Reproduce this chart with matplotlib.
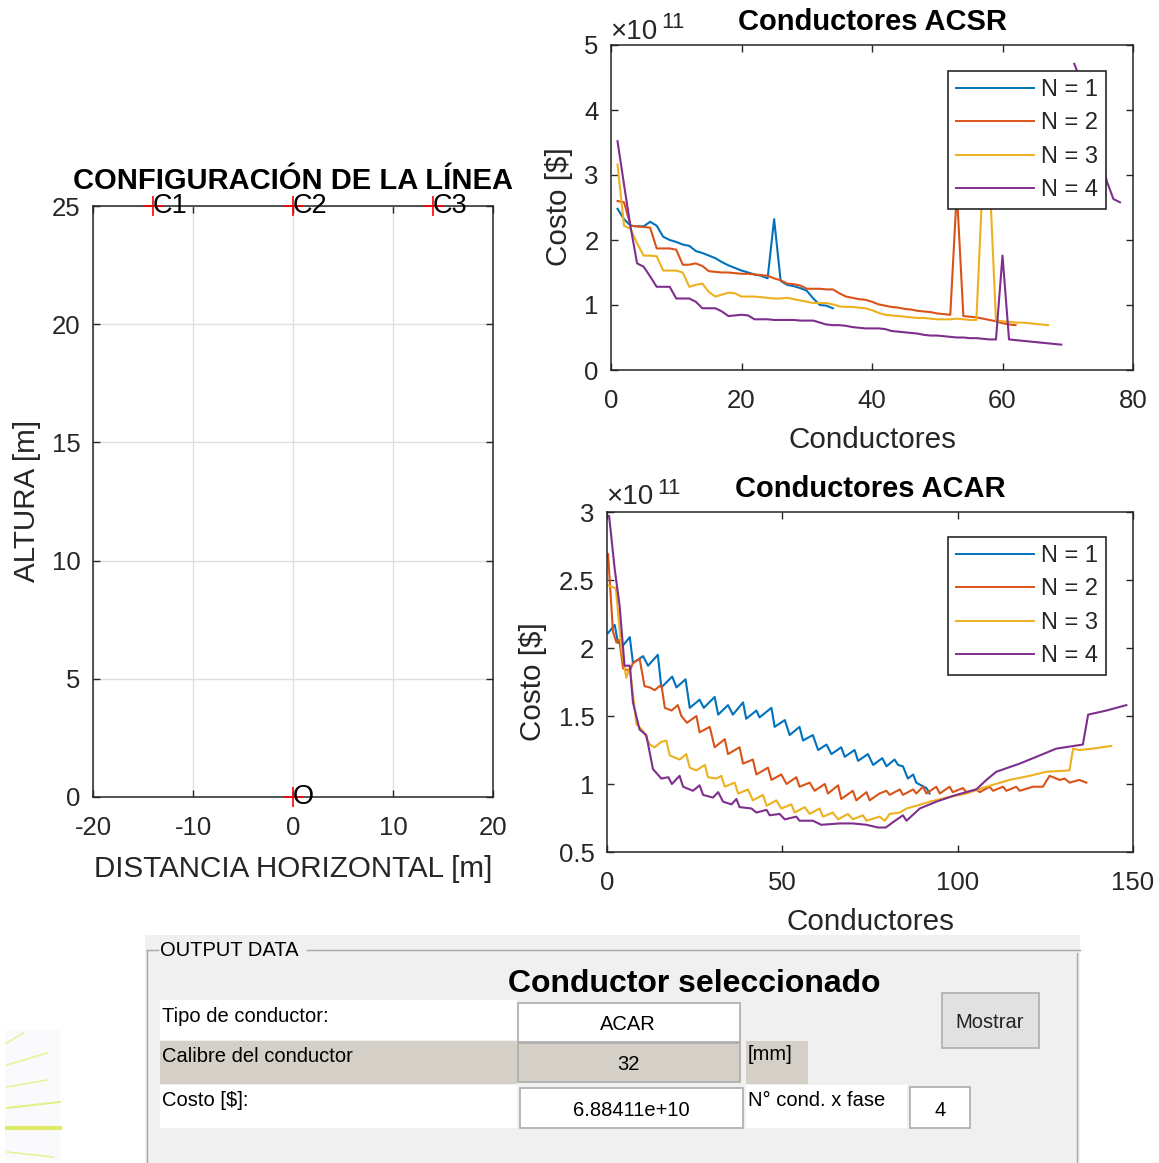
import numpy as np
import matplotlib
matplotlib.use('Agg')
import matplotlib.pyplot as plt
from matplotlib.patches import Rectangle
from matplotlib.lines import Line2D
from matplotlib.ticker import FuncFormatter

plt.rcParams['font.family'] = ['Liberation Sans', 'DejaVu Sans']
plt.rcParams['axes.unicode_minus'] = False

# ---------------- data ----------------
# Line configuration (left plot)
cond_labels = ['C1', 'C2', 'C3', 'O']
cond_x = [-14, 0, 14, 0]
cond_y = [25, 25, 25, 0]

series_labels = ['N = 1', 'N = 2', 'N = 3', 'N = 4']

# ACSR costs (x 1e11 $), one value per conductor index
acsr_n1 = [2.48, 2.32, 2.22, 2.21, 2.21, 2.28, 2.22, 2.05, 2.00, 1.97,
           1.93, 1.91, 1.83, 1.80, 1.76, 1.72, 1.66, 1.61, 1.57, 1.53,
           1.50, 1.47, 1.45, 1.41, 2.32, 1.37, 1.31, 1.29, 1.26, 1.22,
           1.10, 1.00, 0.99, 0.95]
acsr_n2 = [2.60, 2.58, 2.22, 2.21, 2.20, 2.19, 1.87, 1.87, 1.87, 1.85,
           1.62, 1.62, 1.64, 1.60, 1.52, 1.51, 1.50, 1.50, 1.49, 1.48,
           1.48, 1.47, 1.46, 1.45, 1.41, 1.38, 1.33, 1.32, 1.30, 1.25,
           1.25, 1.25, 1.24, 1.24, 1.18, 1.13, 1.11, 1.09, 1.08, 1.05,
           1.01, 0.99, 0.97, 0.96, 0.94, 0.93, 0.91, 0.90, 0.89, 0.87,
           0.86, 0.85, 2.75, 0.83, 0.82, 0.81, 0.79, 0.77, 0.75, 0.72,
           0.70, 0.69]
acsr_n3 = [3.16, 2.22, 2.17, 1.95, 1.76, 1.76, 1.75, 1.53, 1.53, 1.53,
           1.50, 1.28, 1.31, 1.33, 1.20, 1.13, 1.16, 1.19, 1.18, 1.13,
           1.13, 1.13, 1.12, 1.11, 1.10, 1.10, 1.11, 1.09, 1.07, 1.05,
           1.03, 1.03, 1.03, 1.01, 0.98, 0.97, 0.97, 0.96, 0.95, 0.92,
           0.88, 0.85, 0.84, 0.83, 0.82, 0.81, 0.80, 0.80, 0.79, 0.78,
           0.78, 0.78, 0.79, 0.78, 0.77, 0.77, 3.00, 3.00, 0.76, 0.75,
           0.74, 0.73, 0.73, 0.72, 0.71, 0.70, 0.69]
acsr_n4 = [3.52, 2.85, 2.20, 1.64, 1.59, 1.44, 1.28, 1.28, 1.28, 1.10,
           1.10, 1.10, 1.05, 0.95, 0.95, 0.95, 0.90, 0.83, 0.84, 0.85,
           0.84, 0.78, 0.78, 0.78, 0.77, 0.77, 0.77, 0.77, 0.76, 0.76,
           0.76, 0.73, 0.70, 0.69, 0.69, 0.68, 0.66, 0.65, 0.64, 0.64,
           0.64, 0.63, 0.60, 0.59, 0.58, 0.57, 0.56, 0.54, 0.53, 0.53,
           0.52, 0.51, 0.50, 0.50, 0.49, 0.49, 0.48, 0.47, 0.47, 1.76,
           0.47, 0.46, 0.45, 0.44, 0.43, 0.42, 0.41, 0.40, 0.39, np.nan,
           4.71, 4.45, 4.10, 3.70, 3.30, 2.90, 2.63, 2.58]

# ACAR costs (x 1e11 $), polyline vertices
acar_n1_x = [0.3, 2.2, 3.1, 4.6, 6.5, 7.4, 10.3, 11.7, 14.5, 15.5, 18.6, 19.8,
             22.4, 23.6, 26.4, 27.6, 30.7, 31.7, 34.5, 35.9, 38.8, 39.7, 42.6,
             43.5, 46.9, 47.8, 50.7, 52.1, 54.9, 55.9, 58.7, 60.2, 62.6, 64.0,
             66.8, 67.8, 70.6, 71.6, 74.4, 75.9, 78.5, 79.7, 82.0, 83.0, 84.4,
             85.8, 87.3, 88.2, 89.6, 91.1, 92.0]
acar_n1_y = [2.11, 2.17, 2.04, 2.02, 2.08, 1.89, 1.94, 1.87, 1.95, 1.71, 1.79, 1.71,
             1.77, 1.56, 1.62, 1.56, 1.64, 1.51, 1.58, 1.51, 1.60, 1.48, 1.54,
             1.49, 1.56, 1.42, 1.47, 1.36, 1.42, 1.32, 1.36, 1.25, 1.29, 1.22,
             1.27, 1.20, 1.25, 1.17, 1.22, 1.14, 1.19, 1.13, 1.18, 1.14, 1.13,
             1.04, 1.07, 1.01, 0.99, 0.97, 0.93]
acar_n2_x = [0.3, 1.7, 2.7, 3.5, 4.6, 6.5, 7.4, 9.3, 10.7, 12.2, 13.6, 15.5, 16.5,
             18.4, 20.2, 21.2, 22.8, 25.5, 26.4, 29.3, 30.7, 33.6, 34.5, 37.8,
             38.8, 41.6, 42.6, 45.9, 46.9, 49.7, 51.2, 54.0, 54.9, 57.8, 59.2,
             62.1, 63.0, 65.9, 66.8, 70.1, 71.1, 74.0, 74.9, 77.7, 79.7, 80.6,
             83.5, 84.4, 87.3, 88.2, 90.1, 91.1, 93.9, 94.9, 97.7, 98.6, 101.5,
             102.5, 105.3, 106.3, 109.1, 110.1, 112.9, 113.9, 116.7, 117.7,
             121.5, 124.3, 126.2, 127.2, 129.1, 130.5, 131.9, 134.7, 136.7]
acar_n2_y = [2.69, 2.12, 2.04, 2.06, 1.85, 1.83, 1.89, 1.92, 1.72, 1.71, 1.69, 1.73, 1.56,
             1.54, 1.58, 1.50, 1.45, 1.50, 1.38, 1.42, 1.27, 1.33, 1.22, 1.27,
             1.15, 1.18, 1.07, 1.12, 1.03, 1.07, 1.00, 1.05, 0.98, 1.01, 0.95,
             1.00, 0.93, 0.99, 0.89, 0.95, 0.88, 0.94, 0.88, 0.93, 0.95, 0.92,
             0.96, 0.92, 0.96, 0.93, 0.98, 0.93, 0.98, 0.93, 0.98, 0.94, 0.97,
             0.94, 0.96, 0.94, 0.98, 0.95, 0.98, 0.95, 0.98, 0.95,
             0.98, 0.98, 1.06, 1.05, 1.03, 1.04, 1.01, 1.03, 1.01]
acar_n3_x = [0.3, 2.5, 4.1, 5.5, 6.5, 8.4, 10.3, 12.2, 13.6, 15.5, 16.9, 17.9, 20.7,
             22.6, 23.6, 25.5, 27.9, 28.8, 31.2, 32.6, 33.6, 36.4, 37.4, 40.2,
             41.6, 44.5, 45.5, 48.3, 49.7, 52.6, 53.5, 56.4, 57.8, 60.6, 61.6,
             64.4, 65.9, 68.7, 70.1, 73.0, 74.0, 77.7, 79.2, 80.6, 83.5, 85.4,
             88.2, 92.0, 96.8, 102.5, 108.2, 114.8, 120.5, 125.3, 131.9, 132.9,
             134.7, 138.6, 143.8]
acar_n3_y = [2.46, 2.44, 2.00, 1.78, 1.86, 1.44, 1.39, 1.29, 1.27, 1.31, 1.32, 1.21, 1.18,
             1.22, 1.12, 1.10, 1.14, 1.05, 1.04, 1.06, 0.98, 1.01, 0.93, 0.96,
             0.88, 0.92, 0.84, 0.88, 0.82, 0.85, 0.79, 0.83, 0.78, 0.82, 0.76,
             0.79, 0.74, 0.78, 0.74, 0.77, 0.73, 0.76, 0.73, 0.78, 0.79, 0.82,
             0.84, 0.87, 0.90, 0.93, 0.98, 1.03, 1.06, 1.09, 1.10, 1.26,
             1.25, 1.26, 1.28]
acar_n4_x = [0.6, 2.2, 3.6, 5.0, 6.5, 7.4, 9.3, 11.2, 13.1, 15.5, 17.5, 18.5, 20.7,
             21.7, 24.5, 26.4, 27.4, 30.2, 31.7, 33.1, 35.5, 36.9, 37.8, 41.2,
             42.6, 45.5, 46.4, 49.2, 50.7, 54.0, 54.9, 58.7, 61.1, 66.4, 70.1,
             74.0, 77.3, 79.5, 81.6, 84.4, 85.4, 89.2, 93.9, 99.6, 105.3, 108.2,
             111.0, 117.7, 123.4, 128.1, 135.7, 137.2, 142.4, 148.1]
acar_n4_y = [2.97, 2.58, 2.31, 1.87, 1.87, 1.60, 1.40, 1.36, 1.11, 1.04, 1.05, 1.00, 1.06,
             0.98, 0.95, 0.99, 0.92, 0.90, 0.94, 0.87, 0.85, 0.89, 0.83, 0.82,
             0.79, 0.81, 0.77, 0.78, 0.74, 0.76, 0.73, 0.73, 0.70, 0.71, 0.71,
             0.70, 0.68, 0.68, 0.72, 0.77, 0.73, 0.82, 0.87, 0.92, 0.96, 1.03,
             1.09, 1.15, 1.21, 1.26, 1.29, 1.51, 1.54, 1.58]

# Output panel values
out_tipo = 'ACAR'
out_calibre = '32'
out_costo = '6.88411e+10'
out_ncond = '4'

# ---------------- styling ----------------
W, H = 1159, 1163
fig = plt.figure(figsize=(W / 100, H / 100), dpi=100)
fig.patch.set_facecolor('white')

AX = '#262626'
COLORS = ['#0072BD', '#D95319', '#EDB120', '#7E2F8E']
TICK_FS = 18.5
LAB_FS = 21.3
TITLE_FS = 21
fmt = FuncFormatter(lambda v, p: '%g' % v)


def rect(l, t, r, b):
    return [l / W, 1 - b / H, (r - l) / W, (b - t) / H]


ov = fig.add_axes([0, 0, 1, 1], zorder=-1)
ov.set_xlim(0, W)
ov.set_ylim(H, 0)
ov.axis('off')


def style(ax):
    ax.set_zorder(1)
    for s in ax.spines.values():
        s.set_color(AX)
        s.set_linewidth(1.1)
    ax.tick_params(direction='in', length=5, width=1, colors=AX,
                   labelsize=TICK_FS, top=True, right=True)
    ax.tick_params(axis='y', pad=9)
    ax.tick_params(axis='x', pad=13.6)
    ax.xaxis.set_major_formatter(fmt)
    ax.yaxis.set_major_formatter(fmt)


# ---------- left: line configuration ----------
ax0 = fig.add_axes(rect(93, 206, 493, 797))
style(ax0)
ax0.set_xlim(-20, 20)
ax0.set_ylim(0, 25)
ax0.set_xticks([-20, -10, 0, 10, 20])
ax0.set_yticks([0, 5, 10, 15, 20, 25])
ax0.grid(True, color='#DFDFDF', lw=1)
ax0.set_axisbelow(True)
ax0.plot(cond_x, cond_y, '+', color='red', ms=14, mew=1.2, clip_on=False, zorder=3)
for lab, x, y in zip(cond_labels, cond_x, cond_y):
    ax0.text(x, y, lab, ha='left', va='center', fontsize=19.5, color='black',
             clip_on=False, zorder=4)
ov.text(293, 189, 'CONFIGURACIÓN DE LA LÍNEA', ha='center', va='baseline',
        fontsize=TITLE_FS, fontweight='bold', color='black')
ov.text(293, 877, 'DISTANCIA HORIZONTAL [m]', ha='center', va='baseline',
        fontsize=LAB_FS, color=AX)
ov.text(27, 501, 'ALTURA [m]', ha='center', va='center', rotation=90,
        fontsize=LAB_FS, color=AX)


def legend(ax, right_px, top_px):
    handles = [Line2D([], [], color=c, lw=1.4) for c in COLORS]
    lg = ax.legend(handles, series_labels, loc='upper right',
                   bbox_to_anchor=(right_px / W, 1 - top_px / H),
                   bbox_transform=fig.transFigure, borderaxespad=0,
                   fontsize=17, frameon=True, fancybox=False,
                   edgecolor=AX, handlelength=3.3, handletextpad=0.3,
                   labelspacing=0.49, borderpad=0.33)
    lg.get_frame().set_linewidth(1.2)
    lg.get_frame().set_alpha(1)
    for t in lg.get_texts():
        t.set_color(AX)
    return lg


# ---------- ACSR ----------
ax1 = fig.add_axes(rect(611, 45, 1133, 370))
style(ax1)
for vals, c in zip([acsr_n1, acsr_n2, acsr_n3, acsr_n4], COLORS):
    ax1.plot(np.arange(1, len(vals) + 1), vals, color=c, lw=1.5)
ax1.set_xlim(0, 80)
ax1.set_ylim(0, 5)
ax1.set_xticks([0, 20, 40, 60, 80])
ax1.set_yticks([0, 1, 2, 3, 4, 5])
legend(ax1, 1106, 71)
ov.text(872, 30, 'Conductores ACSR', ha='center', va='baseline',
        fontsize=TITLE_FS, fontweight='bold', color='black')
ov.text(872, 448, 'Conductores', ha='center', va='baseline', fontsize=LAB_FS, color=AX)
ov.text(559, 207, 'Costo [$]', ha='center', va='center', rotation=90,
        fontsize=LAB_FS, color=AX)
ov.text(610, 39, '×10', ha='left', va='baseline', fontsize=20, color=AX)
ov.text(661, 28, '11', ha='left', va='baseline', fontsize=16, color=AX)

# ---------- ACAR ----------
ax2 = fig.add_axes(rect(607, 512, 1133, 852))
style(ax2)
for xs, ys, c in zip([acar_n1_x, acar_n2_x, acar_n3_x, acar_n4_x],
                     [acar_n1_y, acar_n2_y, acar_n3_y, acar_n4_y], COLORS):
    ax2.plot(xs, ys, color=c, lw=1.5)
ax2.set_xlim(0, 150)
ax2.set_ylim(0.5, 3)
ax2.set_xticks([0, 50, 100, 150])
ax2.set_yticks([0.5, 1, 1.5, 2, 2.5, 3])
legend(ax2, 1106, 537)
ov.text(870, 497, 'Conductores ACAR', ha='center', va='baseline',
        fontsize=TITLE_FS, fontweight='bold', color='black')
ov.text(870, 930, 'Conductores', ha='center', va='baseline', fontsize=LAB_FS, color=AX)
ov.text(533, 682, 'Costo [$]', ha='center', va='center', rotation=90,
        fontsize=LAB_FS, color=AX)
ov.text(606, 504, '×10', ha='left', va='baseline', fontsize=20, color=AX)
ov.text(657, 494, '11', ha='left', va='baseline', fontsize=16, color=AX)

# ---------- output data panel ----------
ov.add_patch(Rectangle((145, 935), 935, 228, fc='#F0F0F0', ec='none'))
bc = '#A8A8A8'
ov.plot([147, 158], [950, 950], color=bc, lw=1)
ov.plot([307, 1080], [950, 950], color=bc, lw=1)
ov.plot([147, 147], [950, 1163], color=bc, lw=1)
ov.plot([1077, 1077], [953, 1163], color=bc, lw=1)
PFS = 14.5
ov.text(160, 951, 'OUTPUT DATA', ha='left', va='center', fontsize=PFS, color='black')
ov.text(694, 992, 'Conductor seleccionado', ha='center', va='baseline',
        fontsize=23, fontweight='bold', color='black')
ov.add_patch(Rectangle((160, 1000), 357, 40, fc='white', ec='none'))
ov.add_patch(Rectangle((160, 1041), 357, 43, fc='#D4D0C8', ec='none'))
ov.add_patch(Rectangle((160, 1085), 357, 43, fc='white', ec='none'))
ov.text(162, 1016, 'Tipo de conductor:', ha='left', va='center', fontsize=PFS, color='black')
ov.text(162, 1056, 'Calibre del conductor', ha='left', va='center', fontsize=PFS, color='black')
ov.text(162, 1100, 'Costo [$]:', ha='left', va='center', fontsize=PFS, color='black')
ov.add_patch(Rectangle((518, 1003), 222, 39, fc='white', ec='#ABABAB', lw=1.2))
ov.add_patch(Rectangle((518, 1043), 222, 39, fc='#D4D0C8', ec='#ABABAB', lw=1.2))
ov.add_patch(Rectangle((520, 1088), 223, 40, fc='white', ec='#ABABAB', lw=1.2))
ov.text(628, 1025, out_tipo, ha='center', va='center', fontsize=PFS, color='black')
ov.text(628, 1064, out_calibre, ha='center', va='center', fontsize=PFS, color='black')
ov.text(631, 1110, out_costo, ha='center', va='center', fontsize=PFS, color='black')
ov.add_patch(Rectangle((746, 1041), 62, 43, fc='#D4D0C8', ec='none'))
ov.text(748, 1055, '[mm]', ha='left', va='center', fontsize=PFS, color='black')
ov.add_patch(Rectangle((746, 1085), 161, 43, fc='white', ec='none'))
ov.text(748, 1100, 'N° cond. x fase', ha='left', va='center', fontsize=PFS, color='black')
ov.add_patch(Rectangle((910, 1087), 60, 41, fc='white', ec='#ABABAB', lw=1.2))
ov.text(940, 1110, out_ncond, ha='center', va='center', fontsize=PFS, color='black')
ov.add_patch(Rectangle((942, 993), 97, 55, fc='#E1E1E1', ec='#ADADAD', lw=1.2))
ov.text(990, 1023, 'Mostrar', ha='center', va='center', fontsize=PFS, color='#222222')

# ---------- small decorative fragment at bottom-left ----------
ov.add_patch(Rectangle((5, 1030), 55, 130, fc='#FAFAFD', ec='none'))
for (x0, y0, x1, y1, lw, a) in [(7, 1043, 23, 1033, 1.2, 0.6), (7, 1065, 47, 1053, 1.2, 0.6),
                                (7, 1087, 47, 1080, 1.2, 0.6), (7, 1108, 60, 1102, 1.5, 0.7),
                                (7, 1128, 60, 1128, 3.0, 0.9), (7, 1152, 53, 1157, 1.2, 0.6)]:
    ov.plot([x0, x1], [y0, y1], color='#DDEB5A', lw=lw, alpha=a)

fig.savefig('out.png', dpi=100)
